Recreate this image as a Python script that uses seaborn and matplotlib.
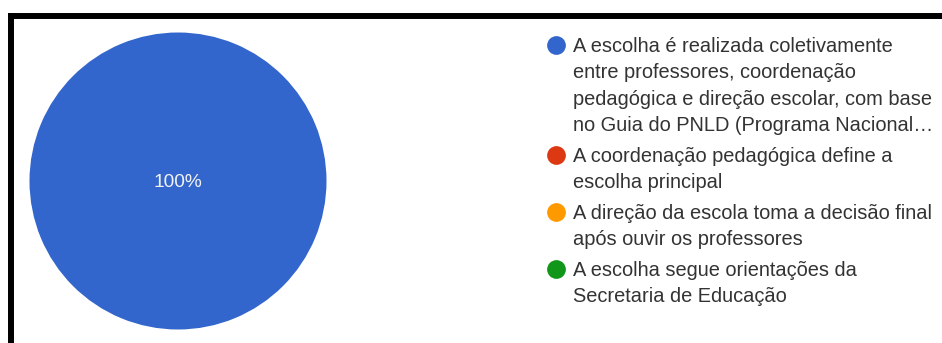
import matplotlib
matplotlib.use("Agg")
import matplotlib.pyplot as plt
from matplotlib.lines import Line2D
import seaborn as sns

# Survey answers and their share of responses
categories = [
    "A escolha é realizada coletivamente\nentre professores, coordenação\npedagógica e direção escolar, com base\nno Guia do PNLD (Programa Nacional…",
    "A coordenação pedagógica define a\nescolha principal",
    "A direção da escola toma a decisão final\napós ouvir os professores",
    "A escolha segue orientações da\nSecretaria de Educação",
]
values = [100, 0, 0, 0]
colors = ["#3366CC", "#DC3912", "#FF9900", "#109618"]

sns.set_theme(style="white")
plt.rcParams["font.family"] = ["Liberation Sans", "DejaVu Sans"]
palette = sns.color_palette(colors)

W, H = 942, 343
fig = plt.figure(figsize=(W / 100, H / 100), dpi=100)
fig.patch.set_facecolor("white")


def fx(px):
    return px / W


def fy(py):
    return 1 - py / H


# Pie area
cx, cy, r = 178, 181, 148.5
ax = fig.add_axes([fx(cx - r), fy(cy + r), 2 * r / W, 2 * r / H])
wedges, _ = ax.pie(values, colors=palette, startangle=90, counterclock=False,
                   radius=1, wedgeprops=dict(linewidth=0))
ax.set_xlim(-1, 1)
ax.set_ylim(-1, 1)
ax.set_aspect("equal")
ax.axis("off")

total = sum(values)
ax.text(0, -0.012, f"{values[0] / total * 100:.0f}%", color="#f2f2f2",
        fontsize=13.8, ha="center", va="center")

# Legend drawn as a column of dots and wrapped labels
dot_x, text_x = 556, 573
y0, pitch, gap = 44.5, 26.5, 4.0
y = y0
for label, col in zip(categories, palette):
    fig.add_artist(Line2D([fx(dot_x)], [fy(y)], marker="o", markersize=13.5,
                          markerfacecolor=col, markeredgewidth=0,
                          linestyle="none", transform=fig.transFigure))
    for i, line in enumerate(label.split("\n")):
        fig.text(fx(text_x), fy(y + 7.4 + i * pitch), line, fontsize=14.4,
                 color="#333333", ha="left", va="baseline")
    y += len(label.split("\n")) * pitch + gap

# Frame around the panel
frame = dict(color="black", linewidth=4.3, solid_capstyle="projecting",
             transform=fig.transFigure)
fig.add_artist(Line2D([fx(11), 1.02], [fy(16), fy(16)], **frame))
fig.add_artist(Line2D([fx(11), fx(11)], [fy(16), -0.02], **frame))

fig.savefig("out.png", dpi=100, facecolor="white")
